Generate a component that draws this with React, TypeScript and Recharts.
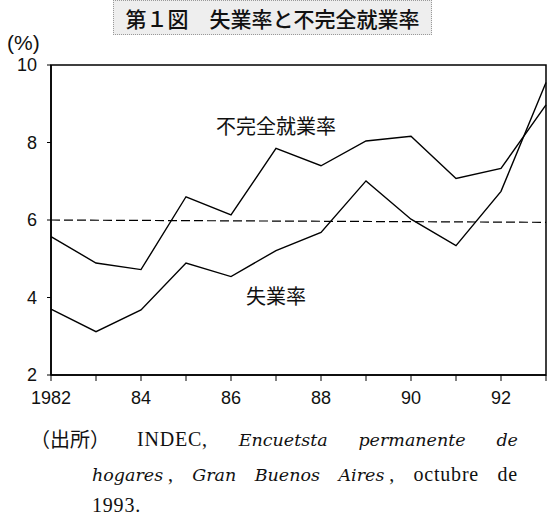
import * as React from 'react';
import { LineChart, Line, XAxis, YAxis, ReferenceLine, ReferenceArea, ReferenceDot } from 'recharts';

// 年次
const years = [1982, 1983, 1984, 1985, 1986, 1987, 1988, 1989, 1990, 1991, 1992, 1993];
// 不完全就業率 (%)
const underemployment = [5.57, 4.89, 4.72, 6.6, 6.13, 7.85, 7.4, 8.04, 8.16, 7.07, 7.33, 8.97];
// 失業率 (%)
const unemployment = [3.7, 3.12, 3.68, 4.89, 4.54, 5.21, 5.68, 7.01, 6.02, 5.34, 6.74, 9.55];

const xTickLabels = ['1982', '', '84', '', '86', '', '88', '', '90', '', '92', ''];
const yTicks = [2, 4, 6, 8, 10];
const refLevel = [6.0, 5.94];

const seriesNames = { under: '不完全就業率', unemp: '失業率' };
const title = '第１図　失業率と不完全就業率';

const data = years.map((y, i) => ({ year: y, under: underemployment[i], unemp: unemployment[i] }));

const numFont = "'Liberation Sans', Arial, sans-serif";
const jpFont = "'Noto Sans CJK JP', sans-serif";
const serif = "'Liberation Serif', 'DejaVu Serif', serif";
const italicSerif = "'DejaVu Serif', serif";

const caption: React.CSSProperties = {
  position: 'absolute', fontFamily: serif, fontSize: 20, lineHeight: '24px',
  letterSpacing: 0.8, color: '#111', whiteSpace: 'nowrap',
};
const it: React.CSSProperties = { fontFamily: italicSerif, fontStyle: 'italic', fontSize: 17.5, letterSpacing: 0 };

export default function App() {
  return (
    <div style={{ position: 'absolute', left: 0, top: 0, width: 554, height: 515, background: '#fff' }}>
      <div style={{
        position: 'absolute', left: 113, top: 0, width: 319, height: 35,
        background: '#eeeeee', border: '1px dotted #999', boxSizing: 'border-box',
        fontFamily: jpFont, fontSize: 21, fontWeight: 500, lineHeight: '35px', textAlign: 'center', color: '#111',
      }}>{title}</div>
      <div style={{ position: 'absolute', left: 7, top: 31, fontFamily: numFont, fontSize: 21, color: '#111' }}>(%)</div>

      <LineChart width={554} height={515} data={data} margin={{ top: 65, right: 8, bottom: 100, left: 0 }}>
        <XAxis
          dataKey="year"
          type="number"
          domain={[1982, 1993]}
          ticks={years}
          interval={0}
          tickFormatter={(v: number) => xTickLabels[years.indexOf(v)] ?? ''}
          tick={{ fill: '#111', fontSize: 18, fontFamily: numFont }}
          tickSize={6}
          tickMargin={10}
          height={40}
          stroke="#000"
          axisLine={{ stroke: '#000', strokeWidth: 1.5 }}
        />
        <YAxis
          type="number"
          domain={[2, 10]}
          ticks={yTicks}
          interval={0}
          tick={{ fill: '#111', fontSize: 18, fontFamily: numFont }}
          tickSize={4}
          tickMargin={10}
          width={51}
          stroke="#000"
          axisLine={{ stroke: '#000', strokeWidth: 1.5 }}
        />
        <ReferenceArea x1={1982} x2={1993} y1={2} y2={10} fill="none" stroke="#000" strokeWidth={1.5} />
        <ReferenceLine
          segment={[{ x: 1982, y: refLevel[0] }, { x: 1993, y: refLevel[1] }]}
          stroke="#000"
          strokeWidth={1.2}
          strokeDasharray="9 4"
        />
        <Line dataKey="under" stroke="#000" strokeWidth={1.4} dot={false} isAnimationActive={false} />
        <Line dataKey="unemp" stroke="#000" strokeWidth={1.4} dot={false} isAnimationActive={false} />
        <ReferenceDot x={1987} y={8.4} r={0} stroke="none"
          label={{ value: seriesNames.under, position: 'center', fontSize: 20, fontFamily: jpFont, fill: '#111' }} />
        <ReferenceDot x={1987} y={4.01} r={0} stroke="none"
          label={{ value: seriesNames.unemp, position: 'center', fontSize: 20, fontFamily: jpFont, fill: '#111' }} />
      </LineChart>

      <div style={{ position: 'absolute', left: 30, top: 427, fontFamily: jpFont, fontSize: 20, lineHeight: '24px', color: '#111' }}>（出所）</div>
      <div style={{ ...caption, left: 137, width: 381, top: 427, textAlignLast: 'justify' }}>
        INDEC, <span style={it}>Encuetsta</span> <span style={it}>permanente</span> <span style={it}>de</span>
      </div>
      <div style={{ ...caption, left: 92, width: 426, top: 462, textAlignLast: 'justify' }}>
        <span style={it}>hogares</span>{'\u2009,'} <span style={it}>Gran</span> <span style={it}>Buenos</span> <span style={it}>Aires</span>{'\u2009,'} octubre de
      </div>
      <div style={{ ...caption, left: 92, top: 493 }}>1993.</div>
    </div>
  );
}
